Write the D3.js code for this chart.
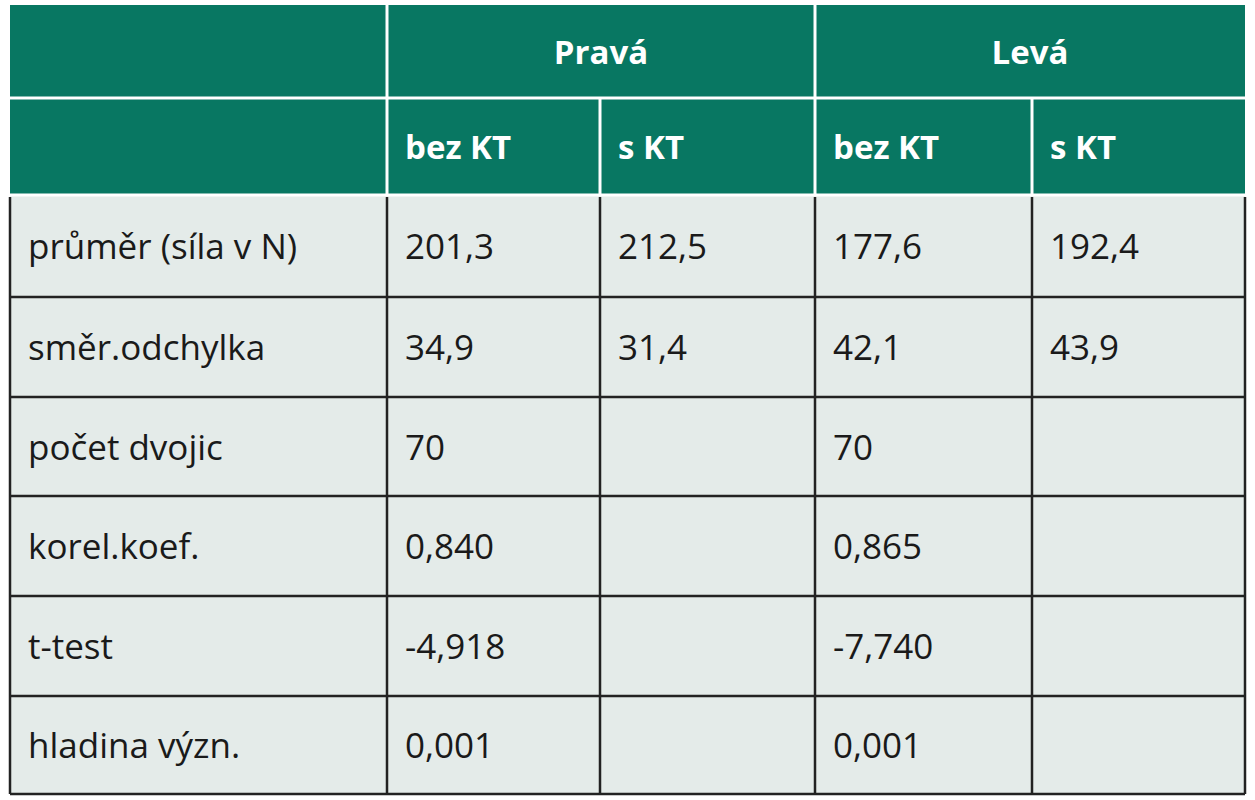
<!DOCTYPE html><html><head><meta charset="utf-8">
<script src="https://cdn.jsdelivr.net/npm/d3@7"></script>
<style>body{margin:0;background:#fff}</style></head><body>
<svg id="c" width="1255" height="800"></svg>
<script>
const groups=["Pravá","Levá"];
const subHeaders=["bez KT","s KT","bez KT","s KT"];
const rowLabels=["průměr (síla v N)","směr.odchylka","počet dvojic","korel.koef.","t-test","hladina význ."];
const col1=["201,3","34,9","70","0,840","-4,918","0,001"];
const col2=["212,5","31,4","","","",""];
const col3=["177,6","42,1","70","0,865","-7,740","0,001"];
const col4=["192,4","43,9","","","",""];
const colX=[10,387,600,815,1032,1245];
const rowY=[5,98,195,297,397,496,596,696,794];
const svg=d3.select("#c");
const green="#087762", bg="#e4ebe9", line="#222";
const font="'Open Sans','DejaVu Sans',sans-serif";
// header bg
svg.append("rect").attr("x",colX[0]).attr("y",rowY[0]).attr("width",colX[5]-colX[0]).attr("height",rowY[2]-rowY[0]).attr("fill",green);
svg.append("rect").attr("x",colX[0]).attr("y",rowY[2]).attr("width",colX[5]-colX[0]).attr("height",rowY[8]-rowY[2]).attr("fill",bg);
// header lines
const wl=(x1,y1,x2,y2,c,w)=>svg.append("line").attr("x1",x1).attr("y1",y1).attr("x2",x2).attr("y2",y2).attr("stroke",c).attr("stroke-width",w);
wl(colX[1],rowY[0],colX[1],rowY[2],"#fff",3);
wl(colX[3],rowY[0],colX[3],rowY[2],"#fff",3);
wl(colX[2],rowY[1],colX[2],rowY[2],"#fff",3);
wl(colX[4],rowY[1],colX[4],rowY[2],"#fff",3);
wl(colX[0],rowY[1],colX[5],rowY[1],"#fff",3);
wl(colX[0],rowY[2],colX[5],rowY[2],"#fff",3);
// body lines
for(let i=3;i<=8;i++) wl(colX[0],rowY[i],colX[5],rowY[i],line,2.5);
for(let j=0;j<=5;j++) wl(colX[j],rowY[2]+2,colX[j],rowY[8],line,2.5);
// header text
groups.forEach((g,i)=>svg.append("text").attr("x",(colX[1+2*i]+colX[3+2*i])/2).attr("y",(rowY[0]+rowY[1])/2+12)
 .attr("text-anchor","middle").attr("fill","#fff").attr("font-family",font).attr("font-weight","bold").attr("font-size",33).text(g));
subHeaders.forEach((s,i)=>svg.append("text").attr("x",colX[1+i]+18).attr("y",(rowY[1]+rowY[2])/2+12)
 .attr("fill","#fff").attr("font-family",font).attr("font-weight","bold").attr("font-size",33).text(s));
// body
const cols=[rowLabels,col1,col2,col3,col4];
cols.forEach((c,j)=>c.forEach((t,i)=>svg.append("text").attr("x",colX[j]+18).attr("y",(rowY[2+i]+rowY[3+i])/2+13)
 .attr("fill","#1a1a1a").attr("font-family",font).attr("font-size",35).text(t)));
</script></body></html>
